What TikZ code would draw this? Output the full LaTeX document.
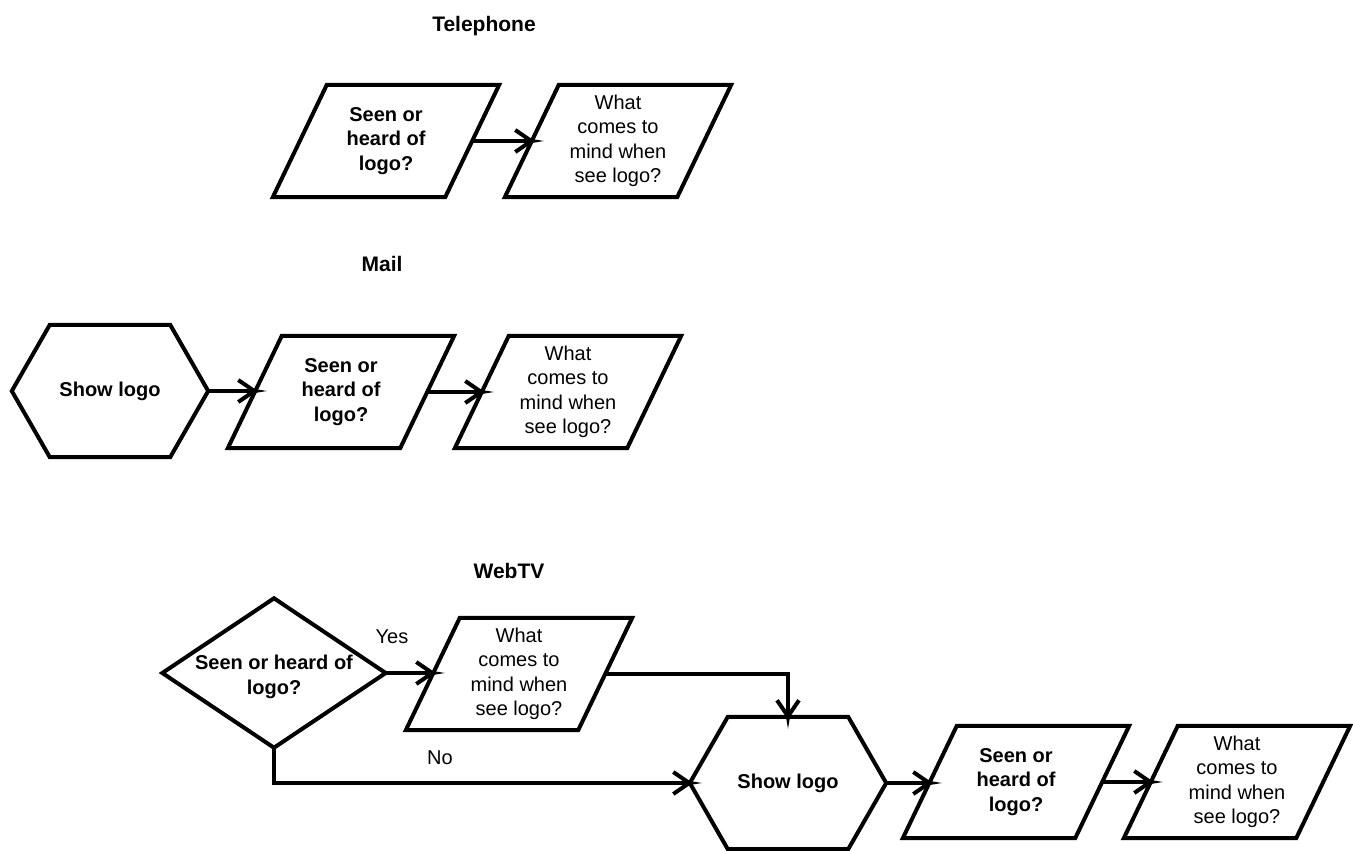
\documentclass[tikz,border=0pt]{standalone}
\usepackage{fontspec}
\setmainfont{Liberation Sans}
\usetikzlibrary{arrows.meta}
\newcommand\paraoutline[1]{\draw[outl] ([xshift=27pt]#1.north west) -- ([xshift=27pt]#1.north east) -- ([xshift=-27pt]#1.south east) -- ([xshift=-27pt]#1.south west) -- cycle;}
\newcommand\hexoutline[1]{\draw[outl] (#1.west) -- ([xshift=38pt]#1.north west) -- ([xshift=-38pt]#1.north east) -- (#1.east) -- ([xshift=-38pt]#1.south east) -- ([xshift=38pt]#1.south west) -- cycle;}
\newcommand\diaoutline[1]{\draw[outl] (#1.west) -- (#1.north) -- (#1.east) -- (#1.south) -- cycle;}
\begin{document}
\begin{tikzpicture}[x=1pt,y=-1pt,
  outl/.style={draw=black, line width=4pt, line join=miter},
  txt/.style={font=\fontsize{20}{24.5}\selectfont, align=center, inner sep=0pt},
  btxt/.style={txt, font=\fontsize{20}{24.5}\selectfont\bfseries},
  ttl/.style={txt, font=\fontsize{21}{25}\selectfont\bfseries},
  para/.style={inner sep=0pt, minimum width=172pt, minimum height=112pt},
  hexa/.style={btxt, minimum width=196pt, minimum height=132pt},
  dia/.style={btxt, minimum width=223pt, minimum height=149pt},
  conn/.style={line width=4pt},
  arr/.style={conn, -{Straight Barb[length=16pt,width=22pt,sep=-3pt]Triangle[length=12pt,width=4pt,line width=0pt]}, shorten >=-12pt},
]
\useasboundingbox (0,0) rectangle (1353,851);

% Telephone
\node[ttl] (ttel) at (484,26) {Telephone};
\node[para, btxt] (p1) at (386,141) {Seen or\\heard of\\logo?};
\node[para, txt] (p2) at (618,141) {What\\comes to\\mind when\\see logo?};
\paraoutline{p1}\paraoutline{p2}
\draw[arr] (p1) -- (p2);

% Mail
\node[ttl] (tmail) at (382,264) {Mail};
\node[hexa] (h1) at (110,391) {Show logo};
\node[para, btxt] (p3) at (341,392) {Seen or\\heard of\\logo?};
\node[para, txt] (p4) at (568,392) {What\\comes to\\mind when\\see logo?};
\hexoutline{h1}\paraoutline{p3}\paraoutline{p4}
\draw[arr] (h1) -- (h1 -| p3.west);
\draw[arr] (p3) -- (p4);

% WebTV
\node[ttl] (tweb) at (509,571) {WebTV};
\node[dia] (d) at (274,673) {};
\node[btxt] (dtxt) at (274,677) {Seen or heard of\\logo?};
\node[para, txt] (p5) at (519,674) {What\\comes to\\mind when\\see logo?};
\node[hexa] (h2) at (788,783) {Show logo};
\node[para, btxt] (p6) at (1016,782) {Seen or\\heard of\\logo?};
\node[para, txt] (p7) at (1237,782) {What\\comes to\\mind when\\see logo?};
\diaoutline{d}\paraoutline{p5}\hexoutline{h2}\paraoutline{p6}\paraoutline{p7}
\draw[arr] (d) -- (d -| p5.west);
\draw[arr] (p5) -| (h2);
\draw[arr] (d) |- (h2);
\draw[arr] (h2) -- (h2 -| p6.west);
\draw[arr] (p6) -- (p7);
\node[txt] (yes) at (392,637) {Yes};
\node[txt] (no) at (440,758) {No};
\end{tikzpicture}
\end{document}
